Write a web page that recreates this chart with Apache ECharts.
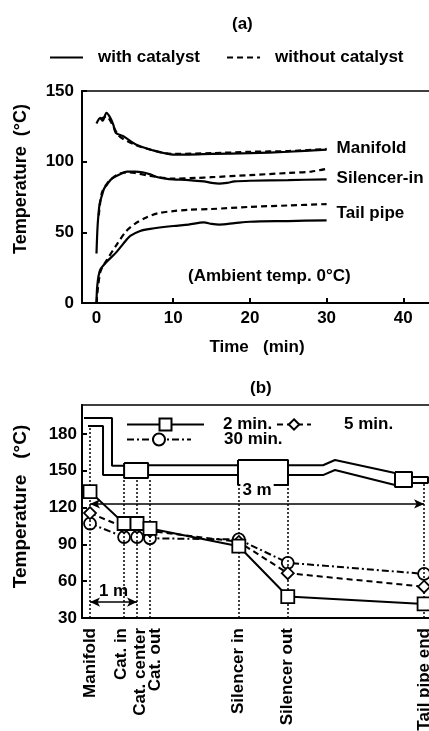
<!DOCTYPE html>
<html><head><meta charset="utf-8">
<script src="https://cdn.jsdelivr.net/npm/echarts@6/dist/echarts.min.js"></script>
<style>html,body{margin:0;padding:0;background:#fff}#c{width:429px;height:731px}</style>
</head><body><div id="c"></div><script>
// ---------- (a) temperature vs time ----------
const timeTicks = [0, 10, 20, 30, 40];
const tempTicksA = [0, 50, 100, 150];
const manifoldWith = [[0,127],[0.5,131],[0.8,129],[1.3,134.5],[1.8,131],[2.2,126],[2.5,120.5],[3.5,118],[5.2,112],[7.4,108],[9.2,105.6],[10,105],[12,105],[15,105.5],[20,106],[25,107],[30,108.5]];
const manifoldWithout = [[0.5,130],[1.3,132],[2,127],[2.8,119],[3.5,116],[5,112],[7,108.5],[9,106],[10,105.5],[15,106],[20,107],[25,107.5],[30,109]];
const silencerWith = [[0,35],[0.15,55],[0.4,70],[0.7,76],[1,81],[1.4,84],[2,88],[3,91],[4,93],[5,93],[6,92.5],[7,91],[8,89],[9,88],[10,87.5],[12,87],[14,86],[15,85],[16,84.5],[17,85],[18,86],[20,86.5],[25,87],[30,87.5]];
const silencerWithout = [[0.3,62],[0.7,78],[1.3,84],[2,88],[3,91.5],[4,92.5],[5,92],[7,90],[10,88],[13,88.5],[15,89],[20,90.5],[25,92],[28,93],[30,95]];
const tailWith = [[0,0],[0.1,12],[0.45,23],[1.3,29],[2.6,36],[3.5,42],[4.4,47.5],[5.7,51],[7,52.5],[10,54.5],[12,55.5],[14,57],[15,56],[16,55.5],[18,56.5],[20,57.5],[25,58],[30,58.5]];
const tailWithout = [[0,0],[0.5,22],[1.3,30],[2.6,41],[3.9,51],[5,56],[6.5,60.5],[8,63.5],[10,65],[12,66],[15,66.5],[20,68],[25,69],[30,70]];

// ---------- (b) temperature along exhaust line ----------
const locations = ['Manifold','Cat. in','Cat. center','Cat. out','Silencer in','Silencer out','Tail pipe end'];
const locationPos = [0, 0.71, 0.98, 1.25, 3.10, 4.12, 6.96];   // distance (m)
const temp2min  = [133, 107, 107, 103, 88.5, 47.5, 41.5];
const temp5min  = [115.5, 104, 104, 101, 92, 66.5, 55.5];
const temp30min = [107, 96, 96, 95, 94, 75, 66];
const tempTicksB = [30, 60, 90, 120, 150, 180];
const guideTop = [185, 144, 144, 144, 138.4, 138.4, 140];

// exhaust system sketch (m, °C-axis units)
const pipeSketch = [
  [[-0.125,193],[0.458,193],[0.458,154],[0.71,154]],
  [[-0.042,186.5],[0.271,186.5],[0.271,146.5],[0.71,146.5]],
  [[0.71,156.3],[1.21,156.3],[1.21,144.1],[0.71,144.1],[0.71,156.3]],
  [[1.21,154.5],[3.083,154.5]],
  [[1.21,146.5],[3.083,146.5]],
  [[3.083,158.8],[4.125,158.8],[4.125,138.4],[3.083,138.4],[3.083,158.8]],
  [[4.125,154.5],[4.854,154.5],[5.104,158.8],[6.354,148.2]],
  [[4.125,146.5],[4.854,146.5],[5.104,150.6],[6.354,138.4]],
  [[6.354,149],[6.708,149],[6.708,136.8],[6.354,136.8],[6.354,149]],
  [[6.708,144.9],[7.042,144.9],[7.042,140],[6.708,140]]
];

const FONT = "'Liberation Sans', Arial, Helvetica, sans-serif";
const T = (size) => ({fontFamily: FONT, fontWeight: 'bold', fontSize: size || 17, color: '#000'});
const BLACK = '#000';

const chart = echarts.init(document.getElementById('c'), null, {renderer: 'canvas'});

function lineA(name, data, dashed, label, labelOffset) {
  const s = {
    name, type: 'line', xAxisIndex: 0, yAxisIndex: 0, data,
    symbol: 'none', smooth: 0.3,
    lineStyle: {color: BLACK, width: 2.2, type: dashed ? [6, 4] : 'solid'},
    itemStyle: {color: BLACK},
    z: 3
  };
  if (label) {
    s.endLabel = Object.assign({show: true, formatter: label, distance: 10, offset: labelOffset || [0, 0]}, T(17));
  }
  return s;
}

const symbolStyle = {color: '#fff', borderColor: BLACK, borderWidth: 1.8};
function lineB(name, values, symbol, size, dash, z) {
  return {
    name, type: 'line', xAxisIndex: 1, yAxisIndex: 1,
    data: values.map((v, i) => [locationPos[i], v]),
    symbol, symbolSize: size, showSymbol: true,
    lineStyle: {color: BLACK, width: 2, type: dash},
    itemStyle: symbolStyle,
    z
  };
}

const guideLines = locationPos.map((p, i) => [
  {coord: [p, 30]}, {coord: [p, guideTop[i]]}
]);

const sketchSeries = pipeSketch.map((path, i) => ({
  name: 'sketch' + i, type: 'line', xAxisIndex: 1, yAxisIndex: 1,
  data: path, symbol: 'none', silent: true,
  lineStyle: {color: BLACK, width: 2},
  z: 2
}));
sketchSeries[0].markLine = {
  silent: true, symbol: 'none', animation: false,
  lineStyle: {color: BLACK, type: [2, 2], width: 1.5},
  label: {show: false},
  data: guideLines.concat([
    [{coord: [0, 123], symbol: 'arrow', symbolSize: [7, 10]},
     {coord: [locationPos[6], 123], symbol: 'arrow', symbolSize: [7, 10],
      lineStyle: {type: 'solid', width: 1.6},
      label: Object.assign({show: true, position: 'middle', formatter: '3 m', backgroundColor: '#fff', padding: [0, 2]}, T(17))}],
    [{coord: [0, 43], symbol: 'arrow', symbolSize: [7, 10]},
     {coord: [locationPos[2], 43], symbol: 'arrow', symbolSize: [7, 10],
      lineStyle: {type: 'solid', width: 1.6},
      label: Object.assign({show: true, position: 'insideMiddleTop', formatter: '1 m', distance: 2}, T(17))}]
  ])
};

// small sideways nudges of the crowded catalyst labels (rich padding, rotated)
const labelRich = {
  ci: Object.assign({padding: [0, 0, 6, 0]}, T(17)),
  cc: Object.assign({padding: [6, 0, 0, 0]}, T(17)),
  co: Object.assign({padding: [10, 0, 0, 0]}, T(17))
};
const labelKey = {'Cat. in': 'ci', 'Cat. center': 'cc', 'Cat. out': 'co'};

const option = {
  backgroundColor: '#fff',
  animation: false,
  title: [
    {text: '(a)', left: 227, top: 11, textStyle: T(17)},
    {text: '(b)', left: 245, top: 375, textStyle: T(17)}
  ],
  legend: [
    {data: ['with catalyst', 'without catalyst'], left: 44, top: 44, itemWidth: 33, itemHeight: 14, itemGap: 26,
     textStyle: Object.assign({padding: [0, 0, 0, 10]}, T(17)), itemStyle: {opacity: 0}},
    {data: ['2 min.'], left: 121, top: 411, itemWidth: 77, itemHeight: 15,
     textStyle: Object.assign({padding: [0, 0, 0, 14]}, T(17))},
    {data: ['5 min.'], left: 271, top: 411, itemWidth: 34, itemHeight: 13,
     textStyle: Object.assign({padding: [0, 0, 0, 28]}, T(17))},
    {data: ['30 min.'], left: 121, top: 426, itemWidth: 64, itemHeight: 15,
     textStyle: Object.assign({padding: [0, 0, 0, 28]}, T(17))}
  ],
  grid: [
    {left: 82, right: -3, top: 91, height: 212, show: true, borderColor: BLACK, borderWidth: 1.5, containLabel: false, outerBoundsMode: 'none'},
    {left: 82, right: -3, top: 405, height: 213, show: true, borderColor: BLACK, borderWidth: 1.5, containLabel: false, outerBoundsMode: 'none'}
  ],
  xAxis: [
    {gridIndex: 0, type: 'value', min: -1.89, max: 43.74,
     name: 'Time   (min)', nameLocation: 'middle', nameGap: 36, nameTextStyle: T(17),
     axisLine: {onZero: false, lineStyle: {color: BLACK, width: 2}},
     axisTick: {show: true, inside: true, length: 5, customValues: timeTicks, lineStyle: {color: BLACK, width: 2}},
     axisLabel: Object.assign({customValues: timeTicks, margin: 7}, T(17)),
     splitLine: {show: false}},
    {gridIndex: 1, type: 'value', min: -0.167, max: 7.125,
     axisLine: {onZero: false, lineStyle: {color: BLACK, width: 2}},
     axisTick: {show: false},
     splitLine: {show: false},
     axisLabel: Object.assign({
       customValues: locationPos, rotate: 90, margin: 10,
       formatter: (v) => {
         const i = locationPos.findIndex(p => Math.abs(p - v) < 1e-6);
         const name = i >= 0 ? locations[i] : '';
         return labelKey[name] ? '{' + labelKey[name] + '|' + name + '}' : name;
       },
       rich: labelRich
     }, T(17))}
  ],
  yAxis: [
    {gridIndex: 0, type: 'value', min: 0, max: 150, interval: 50,
     name: 'Temperature  (°C)', nameLocation: 'middle', nameGap: 52,
     nameTextStyle: Object.assign({padding: [0, 0, 0, 36]}, T(18)),
     axisLine: {show: true, onZero: false, lineStyle: {color: BLACK, width: 2}},
     axisTick: {show: true, inside: true, length: 5, lineStyle: {color: BLACK, width: 2}},
     axisLabel: Object.assign({margin: 8}, T(17)),
     splitLine: {show: false}},
    {gridIndex: 1, type: 'value', min: 30, max: 203.6, interval: 30,
     name: 'Temperature   (°C)', nameLocation: 'middle', nameGap: 52,
     nameTextStyle: Object.assign({padding: [0, 0, 0, 10]}, T(19)),
     axisLine: {show: true, onZero: false, lineStyle: {color: BLACK, width: 2}},
     axisTick: {show: true, inside: true, length: 5, lineStyle: {color: BLACK, width: 2}},
     axisLabel: Object.assign({margin: 5, showMaxLabel: false}, T(17)),
     splitLine: {show: false}}
  ],
  graphic: [
    {type: 'text', left: 188, top: 268, style: Object.assign({text: '(Ambient temp. 0°C)'}, {font: 'bold 17px ' + FONT, fill: BLACK})}
  ],
  series: [
    lineA('with catalyst', manifoldWith, false, 'Manifold', [0, -1]),
    lineA('without catalyst', manifoldWithout, true),
    lineA('with catalyst', silencerWith, false, 'Silencer-in', [0, -1]),
    lineA('without catalyst', silencerWithout, true),
    lineA('with catalyst', tailWith, false, 'Tail pipe', [0, -7]),
    lineA('without catalyst', tailWithout, true),
    ...sketchSeries,
    lineB('30 min.', temp30min, 'circle', 12, [7, 3, 2, 3], 4),
    lineB('5 min.', temp5min, 'diamond', 12, [6, 4], 5),
    lineB('2 min.', temp2min, 'rect', 13, 'solid', 6)
  ]
};
chart.setOption(option);
</script></body></html>
